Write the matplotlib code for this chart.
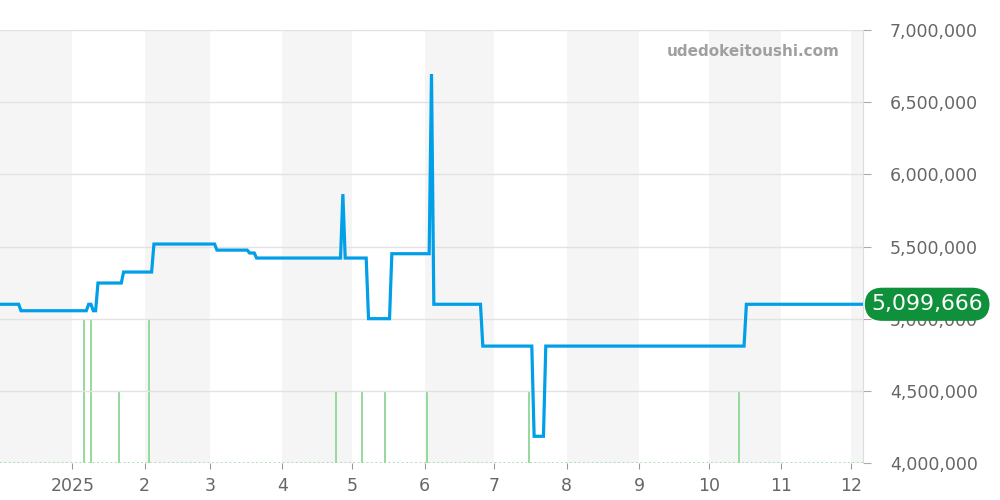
import matplotlib.pyplot as plt
import pandas as pd

# price series
price_dates = pd.to_datetime([
    "2024-12-01", "2024-12-09", "2024-12-10", "2025-01-07", "2025-01-08",
    "2025-01-09", "2025-01-10", "2025-01-11", "2025-01-12", "2025-01-22",
    "2025-01-23", "2025-02-04", "2025-02-05", "2025-03-03", "2025-03-04",
    "2025-03-17", "2025-03-18", "2025-03-20", "2025-03-21", "2025-04-26",
    "2025-04-27", "2025-04-28", "2025-05-07", "2025-05-08", "2025-05-17",
    "2025-05-18", "2025-06-03", "2025-06-04", "2025-06-05", "2025-06-25",
    "2025-06-26", "2025-07-17", "2025-07-18", "2025-07-22", "2025-07-23",
    "2025-10-16", "2025-10-17", "2025-12-06",
])
price_values = [
    5099666, 5099666, 5055000, 5055000, 5099666,
    5099666, 5055000, 5055000, 5247000, 5247000,
    5323000, 5323000, 5517000, 5517000, 5475000,
    5475000, 5455000, 5455000, 5420000, 5420000,
    5863000, 5420000, 5420000, 5000000, 5000000,
    5450000, 5450000, 6695000, 5099666, 5099666,
    4810000, 4810000, 4185000, 4185000, 4810000,
    4810000, 5099666, 5099666,
]
current_price = 5099666

# number of listings / trades per day (green bars)
trade_dates = pd.to_datetime([
    "2025-01-06", "2025-01-09", "2025-01-21", "2025-02-03", "2025-04-24",
    "2025-05-05", "2025-05-15", "2025-06-02", "2025-07-16", "2025-10-14",
])
trade_counts = [2, 2, 1, 2, 1, 1, 1, 1, 1, 1]

month_starts = pd.date_range("2024-12-01", "2026-01-01", freq="MS")
tick_months = pd.date_range("2025-01-01", "2025-12-01", freq="MS")
tick_labels = ["2025", "2", "3", "4", "5", "6", "7", "8", "9", "10", "11", "12"]
y_ticks = [4000000, 4500000, 5000000, 5500000, 6000000, 6500000, 7000000]

x_start = pd.Timestamp("2024-12-01")
x_end = pd.Timestamp("2025-12-06")

LINE = "#009fe8"
BAR = "#8fd694"
GRAY_TXT = "#666666"
GRID = "#e2e2e2"
SHADE = "#f5f5f5"
LABEL_BG = "#0f913c"

fig = plt.figure(figsize=(10, 5), dpi=100)
ax_vol = fig.add_axes([0.0, 0.074, 0.863, 0.866])
ax = ax_vol.twinx()

# alternating month shading
for i in range(len(month_starts) - 1):
    if month_starts[i].month % 2 == 0:
        ax_vol.axvspan(month_starts[i], month_starts[i + 1], color=SHADE, lw=0, zorder=0)

ax_vol.vlines(trade_dates, 0, trade_counts, color=BAR, lw=1.3, zorder=2)
ax_vol.plot([x_start, x_end], [0, 0], color=BAR, lw=1.2, ls=":", zorder=2)
ax_vol.set_ylim(0, 6)
ax_vol.set_yticks([])
ax_vol.set_xlim(x_start, x_end)
ax_vol.set_xticks(tick_months)
ax_vol.set_xticklabels(tick_labels)
ax_vol.tick_params(axis="x", colors="#999999", labelcolor=GRAY_TXT, labelsize=12.5,
                   length=4, pad=6)
for s in ax_vol.spines.values():
    s.set_visible(False)

ax.patch.set_visible(False)
ax.plot(price_dates, price_values, color=LINE, lw=2.3, zorder=3, solid_joinstyle="miter")
ax.set_ylim(4000000, 7000000)
ax.set_yticks(y_ticks)
ax.set_yticklabels([f"{v:,}" for v in y_ticks])
ax.tick_params(axis="y", colors="#aaaaaa", labelcolor=GRAY_TXT, labelsize=12.5,
               length=5.5, pad=14)
ax.grid(axis="y", color=GRID, lw=1, zorder=1)
ax.set_axisbelow(True)
for name, s in ax.spines.items():
    s.set_visible(name == "right")
ax.spines["right"].set_color("#dddddd")

ax.annotate(f"{current_price:,}", xy=(1.0, current_price),
            xycoords=("axes fraction", "data"), xytext=(6, 0),
            textcoords="offset points", ha="left", va="center",
            fontsize=15.8, color="white", zorder=5, annotation_clip=False,
            bbox=dict(boxstyle="round,pad=0.3,rounding_size=0.8", fc=LABEL_BG, ec="none"))

ax.text(0.973, 0.95, "udedokeitoushi.com", transform=ax.transAxes, ha="right",
        va="center", fontsize=11, fontweight="bold", color="#a0a0a0", zorder=4)

fig.savefig("out.png", dpi=100)
